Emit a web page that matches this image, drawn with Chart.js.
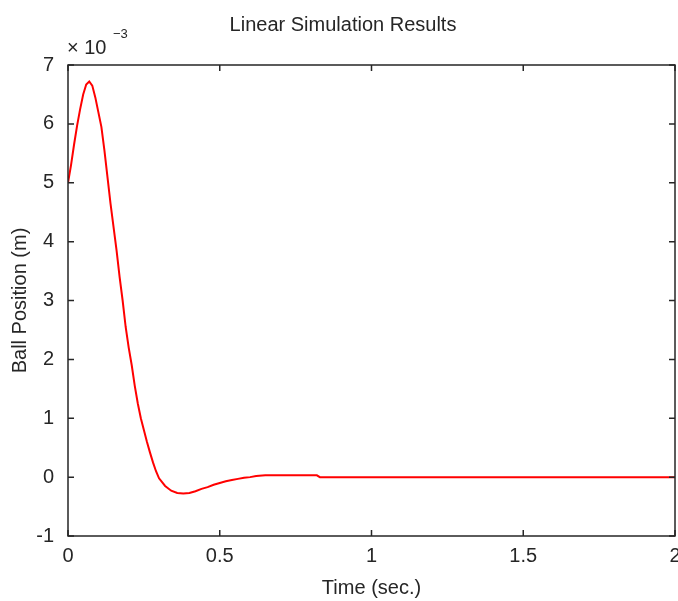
<!DOCTYPE html>
<html>
<head>
<meta charset="utf-8">
<title>Linear Simulation Results</title>
<script src="https://cdn.jsdelivr.net/npm/chart.js@4.4.1/dist/chart.umd.min.js"></script>
<style>
    html, body { margin: 0; padding: 0; background: #fff; }
</style>
</head>
<body>
<canvas id="simChart" width="678" height="601"></canvas>
<script>
// time axis (sec.)
const times = [
    0, 0.01, 0.02, 0.03, 0.04, 0.05, 0.06, 0.07, 0.08, 0.09,
    0.10, 0.11, 0.12, 0.13, 0.14, 0.15, 0.16, 0.17, 0.18, 0.19,
    0.20, 0.21, 0.22, 0.23, 0.24, 0.25, 0.26, 0.27, 0.28, 0.29,
    0.30, 0.32, 0.34, 0.36, 0.38, 0.40, 0.42, 0.44, 0.46, 0.48,
    0.50, 0.52, 0.54, 0.56, 0.58, 0.60, 0.62, 0.65, 0.70, 0.75,
    0.82, 0.83, 1.0, 1.5, 2.0
];
// ball position, in units of 10^-3 m
const positions = [
    5.0, 5.3, 5.65, 5.97, 6.25, 6.5, 6.67, 6.72, 6.65, 6.45,
    6.2, 5.95, 5.55, 5.1, 4.65, 4.25, 3.85, 3.4, 3.0, 2.55,
    2.2, 1.9, 1.55, 1.25, 1.0, 0.8, 0.6, 0.42, 0.25, 0.1,
    -0.02, -0.15, -0.23, -0.27, -0.28, -0.27, -0.24, -0.2, -0.17, -0.13,
    -0.1, -0.07, -0.05, -0.03, -0.01, 0.0, 0.02, 0.03, 0.03, 0.03,
    0.03, 0.0, 0, 0, 0
];
const xTicks = [0, 0.5, 1, 1.5, 2];
const yTicks = [-1, 0, 1, 2, 3, 4, 5, 6, 7];

const titleText = "Linear Simulation Results";
const xLabel = "Time (sec.)";
const yLabel = "Ball Position (m)";

const fontFamily = "'Liberation Sans', Arial, Helvetica, sans-serif";
const axisColor = "#262626";

// box around the axes, inward ticks on all four sides, title and exponent
const matlabFrame = {
    id: 'matlabFrame',
    afterDatasetsDraw(chart) {
        const { ctx, chartArea: a, scales: { x, y } } = chart;
        ctx.save();
        ctx.strokeStyle = axisColor;
        ctx.lineWidth = 1.5;
        ctx.strokeRect(a.left, a.top, a.right - a.left, a.bottom - a.top);

        ctx.beginPath();
        xTicks.forEach(function (v) {
            const px = x.getPixelForValue(v);
            ctx.moveTo(px, a.bottom); ctx.lineTo(px, a.bottom - 6);
            ctx.moveTo(px, a.top); ctx.lineTo(px, a.top + 6);
        });
        yTicks.forEach(function (v) {
            const py = y.getPixelForValue(v);
            ctx.moveTo(a.left, py); ctx.lineTo(a.left + 6, py);
            ctx.moveTo(a.right, py); ctx.lineTo(a.right - 6, py);
        });
        ctx.stroke();

        ctx.fillStyle = axisColor;
        ctx.textBaseline = 'alphabetic';
        ctx.textAlign = 'center';
        ctx.font = "20px " + fontFamily;
        ctx.fillText(titleText, 343, 31);

        ctx.textAlign = 'left';
        ctx.fillText("\u00d7 10", a.left - 1, 54);
        ctx.font = "13px " + fontFamily;
        ctx.fillText("\u22123", a.left + 45, 38);
        ctx.restore();
    }
};

const ctx = document.getElementById("simChart");

const simChart = new Chart(ctx, {
    type: 'line',
    data: {
        datasets: [{
            data: times.map((t, i) => ({ x: t, y: positions[i] })),
            borderColor: "#ff0000",
            borderWidth: 2,
            pointRadius: 0,
            tension: 0,
            fill: false
        }]
    },
    options: {
        responsive: false,
        animation: false,
        layout: { padding: { top: 65, right: 3, left: 0, bottom: 0 } },
        plugins: {
            legend: { display: false },
            tooltip: { enabled: false }
        },
        scales: {
            x: {
                type: 'linear',
                min: 0,
                max: 2,
                grid: { display: false },
                border: { display: false },
                afterBuildTicks: function (scale) {
                    scale.ticks = xTicks.map(v => ({ value: v }));
                },
                ticks: {
                    color: axisColor,
                    padding: 0,
                    maxRotation: 0,
                    font: { family: fontFamily, size: 20 },
                    callback: function (value) {
                        return String(value);
                    }
                },
                title: {
                    display: true,
                    text: xLabel,
                    color: axisColor,
                    padding: { top: 0, bottom: 1 },
                    font: { family: fontFamily, size: 20 }
                },
                afterFit: function (scale) {
                    scale.height = 65;
                    scale.paddingLeft = 0;
                    scale.paddingRight = 0;
                }
            },
            y: {
                type: 'linear',
                min: -1,
                max: 7,
                grid: { display: false },
                border: { display: false },
                afterBuildTicks: function (scale) {
                    scale.ticks = yTicks.map(v => ({ value: v }));
                },
                ticks: {
                    color: axisColor,
                    padding: 6,
                    font: { family: fontFamily, size: 20 },
                    callback: function (value) {
                        return String(value);
                    }
                },
                title: {
                    display: true,
                    text: yLabel,
                    color: axisColor,
                    padding: { top: 8, bottom: 0 },
                    font: { family: fontFamily, size: 20 }
                },
                afterFit: function (scale) {
                    scale.width = 68;
                    scale.paddingTop = 0;
                    scale.paddingBottom = 0;
                }
            }
        }
    },
    plugins: [matlabFrame]
});
</script>
</body>
</html>
